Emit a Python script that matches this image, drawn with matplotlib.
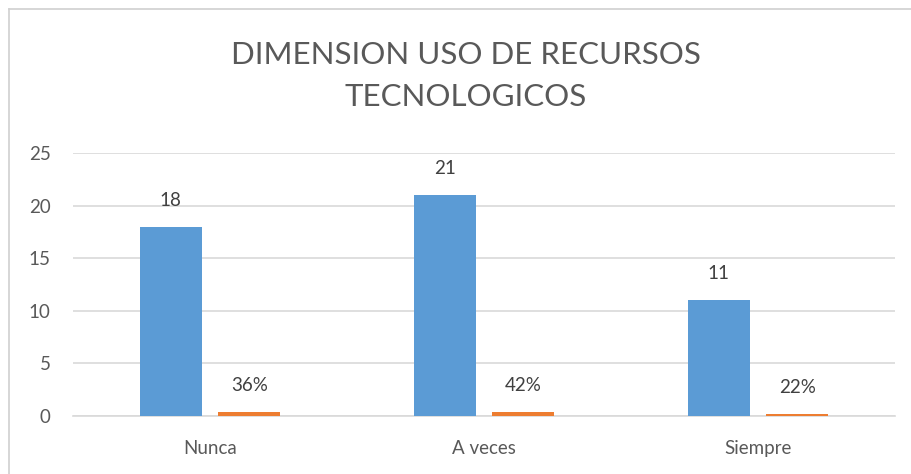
import matplotlib.pyplot as plt
import numpy as np

categories = ["Nunca", "A veces", "Siempre"]
counts = [18, 21, 11]
shares = [0.36, 0.42, 0.22]
share_labels = ["36%", "42%", "22%"]

plt.rcParams['font.family'] = ['Lato', 'DejaVu Sans']
text_color = "#595959"
grid_color = "#d9d9d9"

fig = plt.figure(figsize=(9.12, 4.74), dpi=100)
ax = fig.add_axes([73/912, 58/474, 822/912, 263/474])

x = np.arange(len(categories))
w = 0.224
off = 0.143
blue = ax.bar(x - off, counts, w, color="#5b9bd5", zorder=3)
orange = ax.bar(x + off, shares, w, color="#ed7d31", zorder=3)

for rect, v in zip(blue, counts):
    ax.annotate(str(v), (rect.get_x() + rect.get_width()/2, v),
                xytext=(0, 19), textcoords="offset points",
                ha="center", va="center", fontsize=13.5, color="#404040")
for rect, v, lab in zip(orange, shares, share_labels):
    ax.annotate(lab, (rect.get_x() + rect.get_width()/2, v),
                xytext=(0, 19), textcoords="offset points",
                ha="center", va="center", fontsize=13.5, color="#404040")

ax.set_xlim(-0.5, 2.5)
ax.set_ylim(0, 25)
ax.set_yticks([0, 5, 10, 15, 20, 25])
ax.set_xticks(x)
ax.set_xticklabels(categories)
ax.tick_params(axis="y", length=0, pad=16, labelsize=13.5, labelcolor=text_color)
ax.tick_params(axis="x", length=0, pad=17, labelsize=13.5, labelcolor=text_color)
ax.grid(axis="y", color=grid_color, linewidth=1.2, zorder=0)
for s in ["top", "right", "left"]:
    ax.spines[s].set_visible(False)
ax.spines["bottom"].set_color(grid_color)
ax.spines["bottom"].set_linewidth(1.2)

fig.text(0.511, 0.840, "DIMENSION USO DE RECURSOS\nTECNOLOGICOS", ha="center", va="center",
         fontsize=22.5, color=text_color, linespacing=1.62)

# chart border (only top and left visible in the crop)
fig.add_artist(plt.Line2D([9/912, 1], [1 - 9/474, 1 - 9/474], color="#d0d0d0", linewidth=1.2,
                          transform=fig.transFigure))
fig.add_artist(plt.Line2D([9/912, 9/912], [0, 1 - 9/474], color="#d0d0d0", linewidth=1.2,
                          transform=fig.transFigure))

fig.savefig("out.png", dpi=100, facecolor="white")
